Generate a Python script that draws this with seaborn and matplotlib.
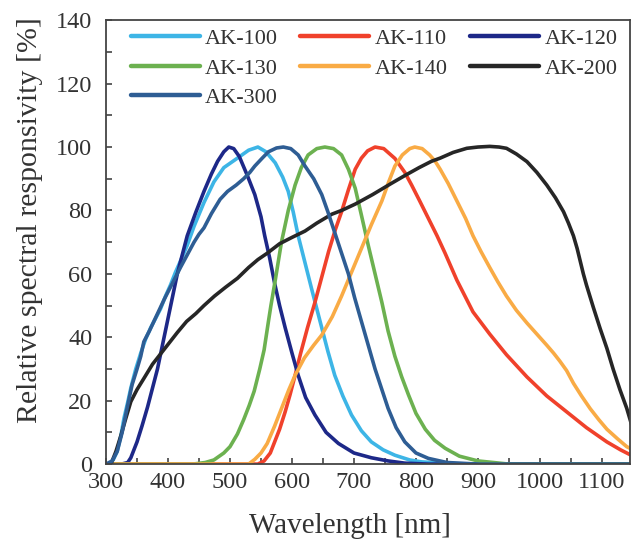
import numpy as np
import pandas as pd
import matplotlib
matplotlib.use("Agg")
import matplotlib.pyplot as plt
import seaborn as sns

# Relative spectral responsivity of the AK sensor family [%] vs wavelength [nm]
ak100_nm = [300, 305, 312, 318, 324, 329, 335, 340, 348, 356, 364, 372, 380, 388, 396, 404, 412, 420,
            431, 442, 458, 474, 490, 512, 530, 545, 558, 573, 585, 594, 602, 610, 621, 632, 640, 648,
            658, 669, 682, 696, 712, 728, 747, 766, 790, 809, 850, 900, 1145]
ak100_val = [0, 0, 1.5, 4, 9, 14.5, 19.5, 24, 30, 35, 39.5, 43, 46, 49, 53, 56.5, 60.5, 64,
             69, 75, 82.5, 89, 93.5, 96.5, 99, 100, 98.5, 95, 90.5, 86, 79.5, 72, 63.5, 55, 49, 43,
             35.5, 28, 21.5, 15.5, 10.5, 7, 4.5, 2.8, 1.3, 0.7, 0.2, 0, 0]

ak110_nm = [300, 545, 555, 565, 572, 580, 589, 597, 605, 614, 625, 637, 648, 659, 670, 680, 691, 702,
            712, 722, 734, 748, 766, 782, 793, 806, 820, 834, 847, 866, 892, 919, 946, 979, 1011,
            1043, 1075, 1108, 1130, 1145]
ak110_val = [0, 0, 1, 3.5, 7, 11, 16.5, 22, 28, 35, 43, 51, 59, 67, 74, 79.6, 86.5, 93,
             96.5, 98.8, 100, 99.5, 96.4, 92, 88, 83, 77.5, 72, 66.5, 58, 48, 41, 34.5, 27.5, 21.5,
             16.5, 11.5, 7, 4.5, 3]

ak120_nm = [300, 325, 335, 340, 350, 358, 367, 375, 383, 391, 399, 407, 415, 423, 431, 445, 458, 470,
            480, 490, 498, 506, 515, 528, 540, 550, 556, 564, 572, 580, 589, 600, 610, 622, 637, 655,
            675, 700, 728, 755, 782, 820, 1145]
ak120_val = [0, 0, 0.5, 2, 7, 12, 18, 24, 30, 37.5, 45, 52.5, 60, 66, 72, 79.5, 86, 91.5,
             95.5, 98.5, 100, 99.5, 97, 91, 85, 78, 72, 65, 57, 50, 43, 35, 28, 21, 15.5, 10,
             6.5, 3.5, 2, 1, 0.3, 0, 0]

ak130_nm = [300, 440, 460, 474, 490, 500, 512, 522, 531, 539, 548, 555, 562, 566, 573, 583, 594, 605,
            615, 626, 640, 653, 667, 680, 691, 702, 712, 723, 734, 745, 755, 766, 777, 788, 800, 815,
            830, 847, 870, 900, 950, 1145]
ak130_val = [0, 0, 0.5, 1.3, 3.5, 5.5, 9.5, 14, 18.5, 23, 30, 36, 45, 50, 58, 70, 80, 88,
             93.5, 97.5, 99.5, 100, 99.5, 97.5, 93, 87, 78.5, 69, 60, 51, 42, 34, 27.5, 21.8, 16, 11,
             7.5, 5, 2.5, 1, 0, 0]

ak140_nm = [310, 530, 540, 550, 560, 572, 585, 595, 605, 620, 635, 648, 665, 680, 696, 712, 728, 745,
            756, 766, 778, 790, 798, 810, 822, 831, 839, 852, 866, 880, 892, 905, 919, 932, 946, 962,
            979, 995, 1011, 1022, 1032, 1043, 1054, 1067, 1081, 1095, 1108, 1125, 1140, 1145]
ak140_val = [0, 0, 1.5, 3.5, 6.5, 12, 18.5, 23.5, 28, 33.5, 37.5, 40.7, 46.5, 53, 60.5, 68, 75.5, 83,
             89, 94, 97.5, 99.5, 100, 99.5, 97.5, 95.5, 93, 88.5, 83, 77.5, 72, 67, 62, 57.5, 53, 48.5,
             44.5, 41, 37.5, 35, 32.5, 29.5, 25.5, 21.5, 17.5, 14, 11, 8, 5.5, 5]

ak200_nm = [300, 308, 316, 324, 332, 340, 350, 361, 375, 387, 399, 415, 430, 445, 458, 475, 493, 512,
            530, 545, 560, 580, 600, 621, 640, 664, 680, 702, 730, 760, 782, 805, 825, 839, 860, 882,
            900, 919, 934, 946, 962, 979, 995, 1011, 1025, 1038, 1046, 1054, 1060, 1065, 1070, 1075,
            1086, 1097, 1108, 1118, 1129, 1140, 1150]
ak200_val = [0, 0, 4, 9, 14.5, 19.7, 23.5, 27, 31.5, 34.5, 37.5, 41.5, 45, 47.5, 50, 53, 55.8, 58.6,
             62, 64.5, 66.5, 69.5, 71.5, 73.5, 76, 78.8, 80, 82, 85, 88.5, 91, 93.5, 95.5, 96.5, 98.3, 99.6,
             100, 100.2, 100, 99.6, 97.8, 95.4, 92, 88, 84, 79.6, 76, 72, 68, 64, 60, 56.5,
             49.5, 42.8, 36.5, 30, 23.5, 17.6, 11]

ak300_nm = [300, 310, 318, 326, 334, 342, 350, 356, 361, 370, 382, 394, 407, 420, 431, 442, 450, 458,
            470, 484, 496, 510, 522, 532, 540, 552, 562, 575, 586, 598, 610, 621, 635, 648, 658, 669,
            680, 691, 701, 712, 723, 734, 745, 755, 768, 782, 800, 820, 850, 900, 1145]
ak300_val = [0, 1, 4, 10, 17.7, 25, 30, 34, 38.6, 42, 47, 52, 57, 62, 66, 70, 72.5, 74.5,
             79, 83.5, 86, 88, 90, 92, 94, 96.5, 98.5, 99.7, 100, 99.5, 97.5, 94, 90, 85, 79.5, 73,
             66.5, 60, 52.5, 45, 37.5, 30, 23.5, 17.6, 11.5, 7, 3.5, 1.8, 0.5, 0, 0]

models = ["AK-100", "AK-110", "AK-120", "AK-130", "AK-140", "AK-200", "AK-300"]
colors = ["#3db5e6", "#f0412b", "#1d2888", "#6cb150", "#f9ab45", "#262626", "#2e5d94"]

series = {
    "AK-100": (ak100_nm, ak100_val),
    "AK-110": (ak110_nm, ak110_val),
    "AK-120": (ak120_nm, ak120_val),
    "AK-130": (ak130_nm, ak130_val),
    "AK-140": (ak140_nm, ak140_val),
    "AK-200": (ak200_nm, ak200_val),
    "AK-300": (ak300_nm, ak300_val),
}

frames = [pd.DataFrame({"wavelength": nm, "resp": val, "model": name})
          for name, (nm, val) in series.items()]
df = pd.concat(frames, ignore_index=True)

sns.set_theme(style="ticks")
plt.rcParams["font.family"] = ["Liberation Serif", "DejaVu Serif"]
plt.rcParams["text.color"] = "#333333"
plt.rcParams["axes.labelcolor"] = "#333333"

fig = plt.figure(figsize=(6.33, 5.46), dpi=100)
ax = fig.add_axes([0.1675, 0.150, 0.8275, 0.813])

sns.lineplot(data=df, x="wavelength", y="resp", hue="model", hue_order=models,
             palette=dict(zip(models, colors)), linewidth=2.6, sort=False,
             estimator=None, ax=ax)

ax.set_xlim(300, 1145)
ax.set_ylim(0, 140)
ax.set_xticks(np.arange(300, 1101, 100))
ax.set_xticks(np.arange(350, 1101, 100), minor=True)
ax.set_yticks(np.arange(0, 141, 20))
ax.set_yticks(np.arange(10, 140, 20), minor=True)
ax.tick_params(axis="both", which="both", direction="in", length=4, width=1.2,
               colors="#444444", labelcolor="#333333", labelsize=17.5)
ax.tick_params(axis="x", which="both", pad=6)
ax.tick_params(axis="y", which="both", pad=10)
for side in ["top", "right", "left", "bottom"]:
    ax.spines[side].set_visible(True)
    ax.spines[side].set_color("#444444")
    ax.spines[side].set_linewidth(1.3)

ax.set_xlabel("Wavelength [nm]", fontsize=21)
ax.set_ylabel("Relative spectral responsivity [%]", fontsize=21.5)
ax.xaxis.set_label_coords(0.466, -0.11)
ax.yaxis.set_label_coords(-0.12, 0.55)

# row-wise legend: reorder entries for matplotlib's column-wise filling
handles, labels = ax.get_legend_handles_labels()
lookup = dict(zip(labels, handles))
order = ["AK-100", "AK-130", "AK-300", "AK-110", "AK-140", "AK-120", "AK-200"]
leg = ax.legend([lookup[k] for k in order], order, ncol=3, loc="upper left",
                bbox_to_anchor=(0.031, 1.0), frameon=False, fontsize=16,
                handlelength=3.1, handletextpad=0.25, columnspacing=1.0,
                labelspacing=0.4, borderaxespad=0.0, borderpad=0.38)
for line in leg.get_lines():
    line.set_linewidth(3.2)

fig.savefig("out.png", dpi=100)
